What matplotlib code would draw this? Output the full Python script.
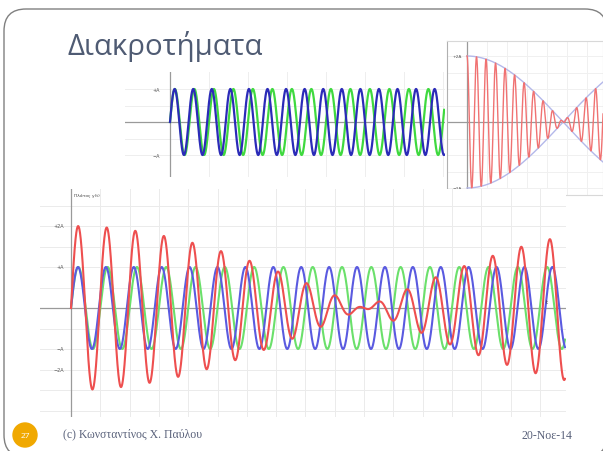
import numpy as np
import matplotlib.pyplot as plt
from matplotlib.patches import FancyBboxPatch, Circle

W, H = 603, 452

# slide texts
title = "Διακροτήματα"
footer_left = "(c) Κωνσταντίνος Χ. Παύλου"
footer_right = "20-Νοε-14"
slide_no = "27"

# top plot: two waves with close frequencies (blue, green), amplitude A = 1
top_freqs = [2.0, 2.1]
top_colors = ["#3fd93f", "#2b2bb8"]
top_t_end = 7.03
top_yticks = [1, -1]
top_ylabels = ["+A", "−A"]

# top right plot: the beat and its envelope
beat_freqs = [4.304, 4.096]
beat_t_end = 3.45
beat_yticks = [2, -2]
beat_ylabels = ["+2A", "−2A"]

# bottom plot: green, blue and their sum (red)
bot_freqs = [1.0, 1.05]
bot_colors = ["#6be06b", "#5a5ae0"]
bot_sum_color = "#ee4f4f"
bot_t_end = 16.86
bot_yticks = [2, 1, -1, -1.5]
bot_ylabels = ["+2A", "+A", "−A", "−2A"]

fig = plt.figure(figsize=(W / 100, H / 100), dpi=100)


def px_axes(x0, y0, x1, y1):
    # axes placed by pixel box of the slide (origin top left)
    return fig.add_axes([x0 / W, 1 - y1 / H, (x1 - x0) / W, (y1 - y0) / H])


def clean(ax, xlim, ylim, xgrid, ygrid, gcol="#ebebeb"):
    ax.set_xlim(*xlim)
    ax.set_ylim(*ylim)
    ax.set_xticks([])
    ax.set_yticks([])
    for s in ax.spines.values():
        s.set_visible(False)
    for x in xgrid:
        ax.axvline(x, color=gcol, lw=0.7, zorder=0)
    for y in ygrid:
        ax.axhline(y, color=gcol, lw=0.7, zorder=0)
    ax.axhline(0, color="#9a9a9a", lw=0.9, zorder=1)
    ax.axvline(0, color="#9a9a9a", lw=0.9, zorder=1)


# slide background
bg = fig.add_axes([0, 0, 1, 1])
bg.set_xlim(0, W)
bg.set_ylim(H, 0)
bg.axis("off")
bg.add_patch(FancyBboxPatch((4, 10), 603, 448, boxstyle="round,pad=0,rounding_size=22",
                            fc="white", ec="#808080", lw=1.0))
bg.text(67, 47, title, fontsize=21.2, color="#4f5b73", va="center", ha="left",
        family="Open Sans")
bg.add_patch(Circle((25, 436), 12, color="#f0a800"))
bg.text(25, 437, slide_no, fontsize=6, color="white", ha="center", va="center",
        family="Open Sans")
bg.text(63, 434, footer_left, fontsize=8.5, color="#59617a", ha="left", va="center",
        family="Liberation Serif")
bg.text(572, 436, footer_right, fontsize=8.5, color="#59617a", ha="right", va="center",
        family="Liberation Serif")

# top plot (1 unit = 39 px horizontally, A = 33 px)
ax1 = px_axes(125, 73, 445, 178)
clean(ax1, (-45 / 39, 275 / 39), (-55 / 33, 50 / 33), range(1, 8), [0.5, -0.5, 1, -1],
      gcol="#eeeeee")
t = np.linspace(0, top_t_end, 2000)
for f, c in zip(top_freqs, top_colors):
    ax1.plot(t, np.sin(2 * np.pi * f * t), color=c, lw=1.6, zorder=3)
for y, lab in zip(top_yticks, top_ylabels):
    ax1.text(-0.25, y, lab, fontsize=3.5, color="#555555", ha="right", va="center")

# top right plot (1 unit = 40 px, A = 33 px)
ax2 = px_axes(447, 42, 603, 196)
clean(ax2, (-20 / 40, 136 / 40), (-73 / 33, 81 / 33), np.arange(0.5, 3.5, 0.5),
      [1, -1, 0.5, -0.5, 1.5, -1.5, 2, -2], gcol="#f0f0f0")
for s in ax2.spines.values():
    s.set_visible(True)
    s.set_color("#d8d8d8")
    s.set_linewidth(0.8)
ax2.spines["left"].set_color("#b0b0b0")
tb = np.linspace(0, beat_t_end, 3000)
env = 2 * np.cos(np.pi * (beat_freqs[0] - beat_freqs[1]) * tb)
ax2.plot(tb, env, color="#b4b8ea", lw=1.0, zorder=2)
ax2.plot(tb, -env, color="#b4b8ea", lw=1.0, zorder=2)
beat = sum(np.cos(2 * np.pi * f * tb) for f in beat_freqs)
ax2.plot(tb, beat, color="#f07272", lw=1.0, zorder=3)
for y, lab in zip(beat_yticks, beat_ylabels):
    ax2.text(-0.12, y, lab, fontsize=3.2, color="#555555", ha="right", va="center")

# bottom plot (1 unit = 29.3 px, A = 41 px)
ax3 = px_axes(40, 190, 566, 418)
clean(ax3, (-31 / 29.3, 495 / 29.3), (-109 / 41, 119 / 41), range(1, 17),
      np.arange(-2.5, 3.0, 0.5))
ts = np.linspace(0, bot_t_end, 4000)
waves = [np.sin(2 * np.pi * f * ts) for f in bot_freqs]
for w, c in zip(waves, bot_colors):
    ax3.plot(ts, w, color=c, lw=1.5, zorder=3)
ax3.plot(ts, waves[0] + waves[1], color=bot_sum_color, lw=1.5, zorder=4)
for y, lab in zip(bot_yticks, bot_ylabels):
    ax3.text(-0.25, y, lab, fontsize=3.5, color="#555555", ha="right", va="center")
ax3.text(0.1, 2.75, "Πλάτος y(t)", fontsize=3.2, color="#444444", ha="left", va="center")
ax3.text(16.2, 0.1, "t", fontsize=4, color="#444444", ha="left", va="bottom")

fig.savefig("out.png", dpi=100)
